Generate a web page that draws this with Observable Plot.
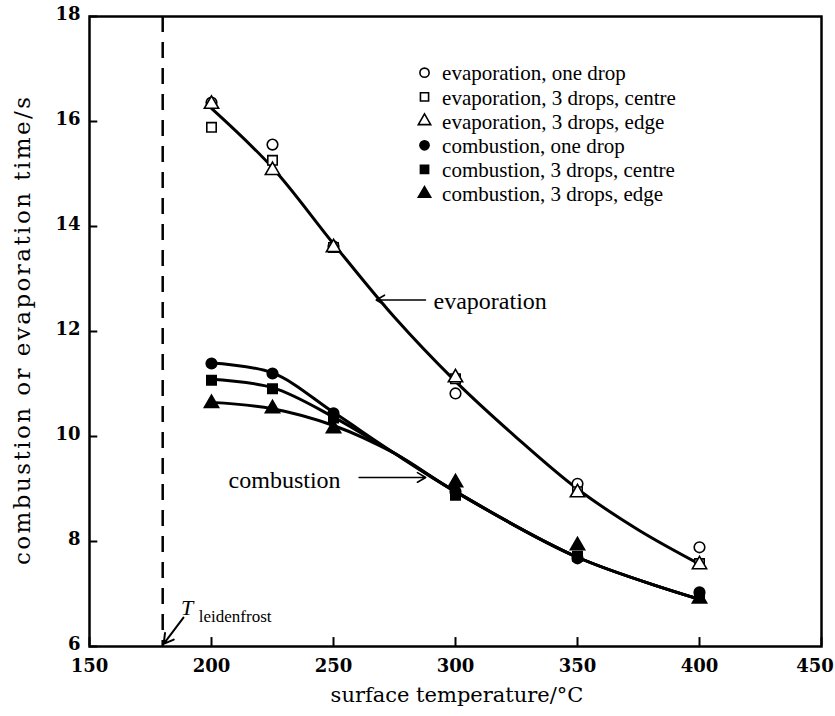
<!DOCTYPE html>
<html><head><meta charset="utf-8">
<script src="https://cdn.jsdelivr.net/npm/d3@7"></script>
<script src="https://cdn.jsdelivr.net/npm/@observablehq/plot@0.6"></script>
<style>
body{margin:0;background:#fff;}
#chart svg{display:block;}
</style>
</head><body><div id="chart"></div>
<script>
// ---- data ----
const xTicks = [150, 200, 250, 300, 350, 400, 450];
const yTicks = [6, 8, 10, 12, 14, 16, 18];
const temps = [200, 225, 250, 300, 350, 400];
const evapOne    = [16.36, 15.56, 13.62, 10.82, 9.10, 7.89];
const evapCentre = [15.89, 15.26, 13.60, 11.10, 8.95, 7.58];
const evapEdge   = [16.33, 15.07, 13.60, 11.12, 8.93, 7.56];
const combOne    = [11.39, 11.20, 10.44, 8.95, 7.68, 7.03];
const combCentre = [11.07, 10.91, 10.35, 8.88, 7.72, 6.95];
const combEdge   = [10.63, 10.53, 10.15, 9.12, 7.92, 6.91];
// fitted curves
const evapFitT = [200, 225, 250, 275, 300, 325, 350, 375, 400];
const evapFit  = [16.25, 15.12, 13.67, 12.27, 11.05, 9.98, 9.0, 8.22, 7.57];
const combFitT = [200, 225, 250, 275, 300, 350, 400];
const combFitOne    = [11.40, 11.21, 10.46, 9.68, 8.95, 7.70, 6.90];
const combFitCentre = [11.09, 10.93, 10.37, 9.68, 8.95, 7.70, 6.90];
const combFitEdge   = [10.65, 10.53, 10.21, 9.68, 8.95, 7.70, 6.90];
const leidenfrost = 180;
const seriesNames = [
  "evaporation, one drop",
  "evaporation, 3 drops, centre",
  "evaporation, 3 drops, edge",
  "combustion, one drop",
  "combustion, 3 drops, centre",
  "combustion, 3 drops, edge"
];
const seriesSymbols = ["circle", "square", "triangle", "circle", "square", "triangle"];
const seriesFilled  = [false, false, false, true, true, true];
const seriesValues  = [evapOne, evapCentre, evapEdge, combOne, combCentre, combEdge];

// ---- build tables ----
const points = [];
seriesValues.forEach((vals, s) => temps.forEach((t, i) =>
  points.push({t, v: vals[i], s})));
const fits = [];
evapFitT.forEach((t, i) => fits.push({t, v: evapFit[i], k: "evap"}));
[combFitOne, combFitCentre, combFitEdge].forEach((arr, j) =>
  combFitT.forEach((t, i) => fits.push({t, v: arr[i], k: "comb" + j})));
const legendRows = seriesNames.map((name, i) => ({name, i}));
const legX = 287.3, legTextX = 294.5, legTop = 16.93, legStep = 0.461;

const serif = "Liberation Serif, Times New Roman, serif";
const tickFont = "DejaVu Serif, serif";

const plot = Plot.plot({
  width: 835, height: 716,
  marginLeft: 89, marginRight: 14, marginTop: 16, marginBottom: 70,
  x: {domain: [150, 450], axis: null},
  y: {domain: [6, 18], axis: null},
  style: {fontFamily: serif, fontSize: "18px", background: "white", color: "black"},
  marks: [
    // tick labels (through the scales); last one nudged in so it stays on the page
    Plot.text(xTicks, {x: d => Math.min(d, 447.3), y: () => 6, dy: 20, text: d => String(d),
      fontSize: 18, fontWeight: "bold", fontFamily: tickFont, lineAnchor: "middle"}),
    Plot.text(yTicks, {x: () => 150, y: d => d, dx: -9, text: d => String(d),
      textAnchor: "end", fontSize: 18, fontWeight: "bold", fontFamily: tickFont, dy: -2}),
    Plot.ruleX(xTicks, {y1: 6, y2: 6.17, strokeWidth: 2}),
    Plot.ruleY(yTicks, {x1: 150, x2: 153.4, strokeWidth: 2}),
    Plot.ruleX([leidenfrost], {strokeWidth: 2.5, strokeDasharray: "16,10"}),
    Plot.line(fits, {x: "t", y: "v", z: "k", curve: "catmull-rom", strokeWidth: 3, stroke: "black"}),
    Plot.dot(points, {x: "t", y: "v",
      symbol: d => seriesSymbols[d.s],
      fill: d => seriesFilled[d.s] ? "black" : "white",
      stroke: "black", strokeWidth: 1.6, r: 5.3}),
    // legend
    Plot.dot(legendRows, {x: () => legX, y: d => legTop - d.i * legStep,
      symbol: d => seriesSymbols[d.i],
      fill: d => seriesFilled[d.i] ? "black" : "white",
      stroke: "black", strokeWidth: 1.6, r: 4.6}),
    Plot.text(legendRows, {x: () => legTextX, y: d => legTop - d.i * legStep,
      text: "name", textAnchor: "start", fontFamily: serif, fontSize: 21, dy: 1}),
    // annotations
    Plot.text(["evaporation"], {x: () => 291, y: () => 12.57, text: d => d,
      textAnchor: "start", fontFamily: serif, fontSize: 24}),
    Plot.arrow([0], {x1: () => 287.7, y1: () => 12.6, x2: () => 267.5, y2: () => 12.6,
      strokeWidth: 1.6, headLength: 9}),
    Plot.text(["combustion"], {x: () => 207, y: () => 9.17, text: d => d,
      textAnchor: "start", fontFamily: serif, fontSize: 24}),
    Plot.arrow([0], {x1: () => 260.5, y1: () => 9.22, x2: () => 287.8, y2: () => 9.22,
      strokeWidth: 1.6, headLength: 9}),
    Plot.text(["T"], {x: () => 187.5, y: () => 6.6, text: d => d, textAnchor: "start",
      lineAnchor: "bottom", fontFamily: serif, fontSize: 22, fontStyle: "italic"}),
    Plot.text(["leidenfrost"], {x: () => 194.8, y: () => 6.46, text: d => d, textAnchor: "start",
      lineAnchor: "bottom", fontFamily: serif, fontSize: 17}),
    Plot.arrow([0], {x1: () => 188.5, y1: () => 6.55, x2: () => 180.4, y2: () => 6.05,
      strokeWidth: 2, headLength: 9}),
    Plot.frame({strokeWidth: 2.5})
  ]
});

const svg = d3.select(plot);
svg.append("text")
  .attr("x", 457).attr("y", 702)
  .attr("text-anchor", "middle")
  .attr("font-family", "DejaVu Serif, serif").attr("font-size", 21)
  .text("surface temperature/°C");
svg.append("text")
  .attr("transform", "translate(30,331) rotate(-90)")
  .attr("text-anchor", "middle")
  .attr("font-family", "DejaVu Serif, serif").attr("font-size", 23)
  .attr("textLength", 468).attr("lengthAdjust", "spacing")
  .text("combustion or evaporation time/s");
document.getElementById("chart").append(plot);
</script>
</body></html>
